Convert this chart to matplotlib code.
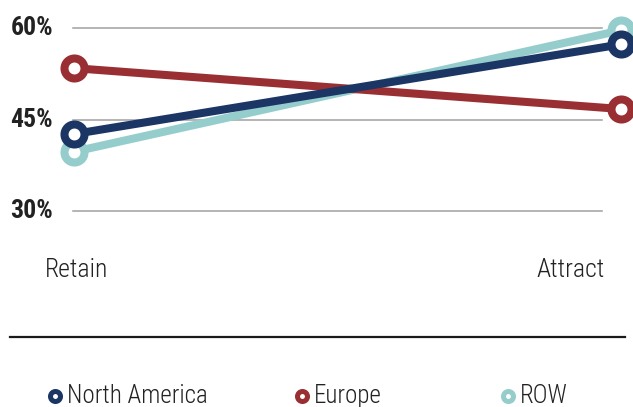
import matplotlib
matplotlib.use("Agg")
import matplotlib.pyplot as plt
from matplotlib.lines import Line2D

stages = ["Retain", "Attract"]
north_america = [42.7, 57.4]
europe = [53.5, 46.8]
row = [39.8, 59.7]
y_ticks = [30, 45, 60]

navy = "#1b3564"
red = "#9a2f33"
teal = "#95cdcc"

plt.rcParams["font.family"] = ["Roboto Condensed", "DejaVu Sans"]

fig = plt.figure(figsize=(6.33, 4.07), dpi=100)
ax = fig.add_axes([0, 1 - 240 / 407, 1, 240 / 407])
ax.set_xlim(-74 / 547, (633 - 74) / 547)
ax.set_ylim(60 - (240 - 28.5) / 6.1, 60 + 28.5 / 6.1)
ax.axis("off")

for t in y_ticks:
    ax.plot([-0.002, 0.966], [t, t], color="#a0a0a0", lw=1.1, zorder=1)
    ax.text(-0.038, t, f"{t}%", ha="right", va="center", fontsize=18.5,
            fontweight="bold", color="#222222")

x = [0, 1]
series = [(row, teal), (europe, red), (north_america, navy)]
for i, (vals, col) in enumerate(series):
    ax.plot(x, vals, color=col, lw=5.8, marker="o", ms=14.4,
            mfc="white", mec=col, mew=5.8, zorder=3 + i, clip_on=False,
            solid_capstyle="butt")

fig.text(45 / 633, 1 - 270 / 407, stages[0], ha="left", va="center",
         fontsize=18.5, fontweight="light", color="#222222")
fig.text(605 / 633, 1 - 270 / 407, stages[1], ha="right", va="center",
         fontsize=18.5, fontweight="light", color="#222222")

# divider above the legend
fig.add_artist(Line2D([10 / 633, 625 / 633], [1 - 337 / 407] * 2,
                      color="#1a1a1a", lw=1.6))

legend_items = [("North America", navy, 55), ("Europe", red, 302), ("ROW", teal, 508)]
for label, col, px in legend_items:
    fig.add_artist(Line2D([px / 633], [1 - 396 / 407], marker="o", ms=7.2,
                          mfc="white", mec=col, mew=3.6, ls="none"))
    fig.text((px + 12) / 633, 1 - 396 / 407, label, ha="left", va="center",
             fontsize=18, fontweight="light", color="#222222")

fig.savefig("out.png", dpi=100)
